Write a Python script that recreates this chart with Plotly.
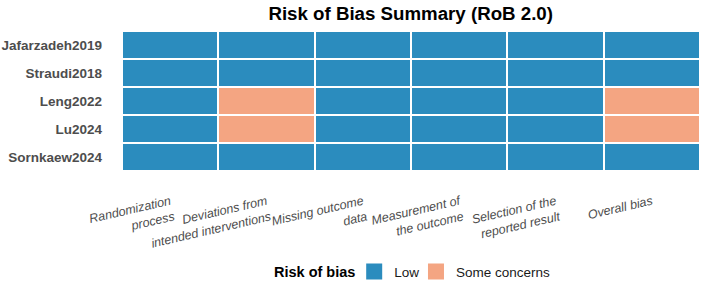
import plotly.graph_objects as go

studies = ["Jafarzadeh2019", "Straudi2018", "Leng2022", "Lu2024", "Sornkaew2024"]
domains = ["Randomization<br>process", "Deviations from<br>intended interventions", "Missing outcome<br>data",
           "Measurement of<br>the outcome", "Selection of the<br>reported result", "Overall bias"]
# 0 = Low, 1 = Some concerns
judgements = [
    [0, 0, 0, 0, 0, 0],
    [0, 0, 0, 0, 0, 0],
    [0, 1, 0, 0, 0, 1],
    [0, 1, 0, 0, 0, 1],
    [0, 0, 0, 0, 0, 0],
]
levels = ["Low", "Some concerns"]
colors = ["#2B8CBE", "#F4A582"]

fig = go.Figure()
fig.add_trace(go.Heatmap(
    z=judgements, x=domains, y=studies,
    colorscale=[[0, colors[0]], [0.5, colors[0]], [0.5, colors[1]], [1, colors[1]]],
    zmin=0, zmax=1, showscale=False, xgap=2, ygap=2, hoverinfo="skip",
))
legend_ids = ["legend", "legend2"]
for lvl, col, lg in zip(levels, colors, legend_ids):
    fig.add_trace(go.Scatter(x=[None], y=[None], mode="markers", name=lvl, legend=lg,
                             marker=dict(symbol="square", size=17, color=col)))

leg_common = dict(orientation="h", xanchor="left", y=-0.72, yanchor="middle",
                  font=dict(size=13.5, color="#1a1a1a"), itemwidth=30,
                  bgcolor="rgba(0,0,0,0)")
fig.update_layout(
    width=702, height=290,
    margin=dict(l=122, r=2, t=31, b=113),
    plot_bgcolor="white", paper_bgcolor="white",
    font=dict(family="Liberation Sans, Arial, sans-serif", color="#4D4D4D"),
    title=dict(text="<b>Risk of Bias Summary (RoB 2.0)</b>", x=0.585, xanchor="center",
               y=0.952, yanchor="middle", font=dict(size=18.7, color="black")),
    legend=dict(x=(355 - 122) / 580, **leg_common),
    legend2=dict(x=(417 - 122) / 580, **leg_common),
    showlegend=True,
    annotations=[dict(text="<b>Risk of bias</b>", xref="paper", yref="paper",
                      x=(358 - 122) / 580, xanchor="right", y=-0.72, yanchor="middle",
                      showarrow=False, font=dict(size=14.5, color="black"))],
)
fig.update_xaxes(tickangle=-13, showgrid=False, zeroline=False, showline=False,
                 tickfont=dict(size=12.5, color="#4D4D4D", style="italic"), ticks="",
                 ticklabelstandoff=20)
fig.update_yaxes(autorange="reversed", showgrid=False, zeroline=False, showline=False,
                 tickfont=dict(size=13.5, color="#4D4D4D", weight="bold"), ticks="",
                 ticklabelstandoff=19)
fig.write_html("out.html")
